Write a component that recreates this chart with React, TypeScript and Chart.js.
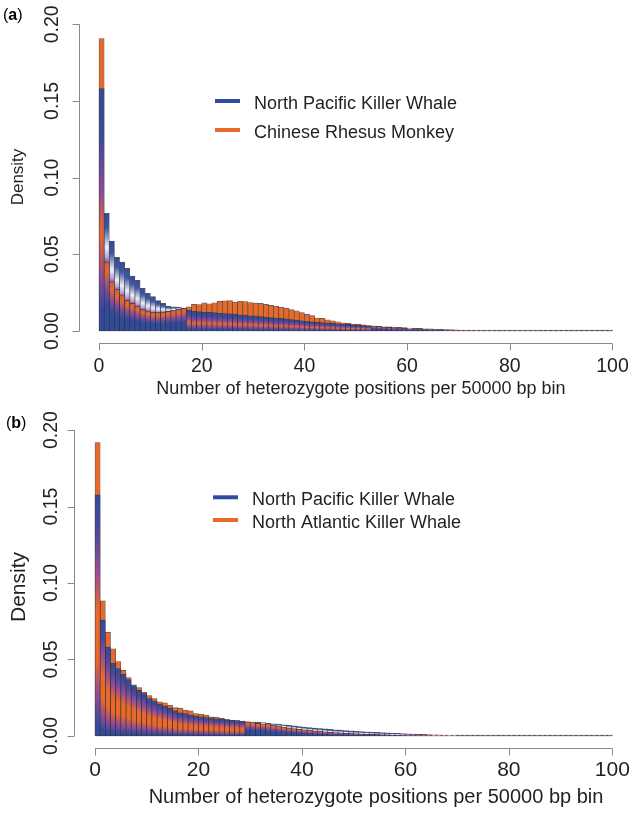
import React, { useEffect, useRef } from "react";
import { Chart, registerables } from "chart.js";

Chart.register(...registerables);

// ---------------- data ----------------
const BIN_STARTS = Array.from({ length: 100 }, (_, i) => i); // histogram bins of width 1, 0..100
const X_TICKS = [0, 20, 40, 60, 80, 100];
const Y_TICKS = [0, 0.05, 0.1, 0.15, 0.2];
const X_TITLE = "Number of heterozygote positions per 50000 bp bin";
const Y_TITLE = "Density";
const NAMES_A = ["North Pacific Killer Whale", "Chinese Rhesus Monkey"];
const NAMES_B = ["North Pacific Killer Whale", "North Atlantic Killer Whale"];

// (a) North Pacific Killer Whale
const npkwA = [
  0.158, 0.0767, 0.0586, 0.048, 0.045, 0.0408, 0.0358, 0.033, 0.0278, 0.0245,
  0.0224, 0.0198, 0.018, 0.0163, 0.0158, 0.0156, 0.0148, 0.0137, 0.0128, 0.0126,
  0.0124, 0.0122, 0.012, 0.0116, 0.0114, 0.0112, 0.011, 0.0106, 0.0103, 0.0099,
  0.0097, 0.0094, 0.0091, 0.0088, 0.0085, 0.0082, 0.0079, 0.0075, 0.0071, 0.0067,
  0.0063, 0.006, 0.0057, 0.0055, 0.0052, 0.005, 0.0047, 0.0045, 0.0043, 0.004,
  0.0038, 0.0036, 0.0034, 0.0032, 0.003, 0.0028, 0.0027, 0.0025, 0.0024, 0.0022,
  0.002, 0.0018, 0.0017, 0.0015, 0.0014, 0.0012, 0.0011, 0.001, 0.0009, 0.0008,
  0.0007, 0.0006, 0.0006, 0.0005, 0.0005, 0.0004, 0.0004, 0.0003, 0.0003, 0.0003,
  0.0002, 0.0002, 0.0002, 0.0002, 0.0001, 0.0001, 0.0001, 0.0001, 0.0001, 0.0001,
  0.0001, 0.0001, 0.00005, 0.00005, 0.00005, 0.00005, 0.00005, 0.00005, 0.00005, 0.00005,
];
// (a) Chinese Rhesus Monkey
const crmA = [
  0.1907, 0.045, 0.032, 0.027, 0.023, 0.02, 0.018, 0.016, 0.014, 0.013,
  0.012, 0.012, 0.0123, 0.0128, 0.0133, 0.014, 0.0148, 0.0158, 0.0174, 0.0172,
  0.0184, 0.0178, 0.0184, 0.0193, 0.0197, 0.0198, 0.0188, 0.0195, 0.0192, 0.0186,
  0.0182, 0.018, 0.0174, 0.0168, 0.0162, 0.0155, 0.0148, 0.014, 0.0132, 0.012,
  0.0109, 0.01, 0.0085, 0.0083, 0.0073, 0.0066, 0.006, 0.0054, 0.005, 0.0046,
  0.0043, 0.004, 0.0035, 0.0032, 0.0029, 0.0026, 0.0024, 0.0021, 0.0019, 0.0017,
  0.0015, 0.0013, 0.0012, 0.001, 0.0009, 0.0008, 0.0007, 0.0006, 0.0005, 0.0004,
  0.0004, 0.0003, 0.0003, 0.0002, 0.0002, 0.0002, 0.0001, 0.0001, 0.0001, 0.0001,
  0.0001, 0.0001, 0.0001, 0.0001, 0.0001, 0.0001, 0.00005, 0.00005, 0.00005, 0.00005,
  0.00005, 0.00005, 0.00005, 0.00005, 0.00005, 0.00005, 0.00005, 0.00005, 0.00005, 0.00005,
];
// (b) North Pacific Killer Whale
const npkwB = [
  0.1576, 0.0758, 0.058, 0.0476, 0.044, 0.0403, 0.0368, 0.0329, 0.0299, 0.0277,
  0.0245, 0.023, 0.0208, 0.0195, 0.018, 0.0164, 0.0151, 0.0147, 0.0136, 0.013,
  0.0125, 0.012, 0.0118, 0.0112, 0.011, 0.0104, 0.0103, 0.01, 0.0096, 0.0093,
  0.0091, 0.009, 0.0087, 0.0083, 0.008, 0.0077, 0.0073, 0.007, 0.0066, 0.0062,
  0.0058, 0.0055, 0.0052, 0.0049, 0.0046, 0.0043, 0.004, 0.0038, 0.0035, 0.0033,
  0.0031, 0.0029, 0.0027, 0.0025, 0.0023, 0.0022, 0.002, 0.0018, 0.0017, 0.0015,
  0.0014, 0.0013, 0.0011, 0.001, 0.0009, 0.0008, 0.0007, 0.0006, 0.0006, 0.0005,
  0.0004, 0.0004, 0.0003, 0.0003, 0.0003, 0.0002, 0.0002, 0.0002, 0.0002, 0.0001,
  0.0001, 0.0001, 0.0001, 0.0001, 0.0001, 0.0001, 0.0001, 0.00005, 0.00005, 0.00005,
  0.00005, 0.00005, 0.00005, 0.00005, 0.00005, 0.00005, 0.00005, 0.00005, 0.00005, 0.00005,
];
// (b) North Atlantic Killer Whale
const nakwB = [
  0.1918, 0.0883, 0.0677, 0.057, 0.0487, 0.0429, 0.0381, 0.0335, 0.0316, 0.0286,
  0.0264, 0.0245, 0.0223, 0.0216, 0.0201, 0.0186, 0.0182, 0.0169, 0.0164, 0.0147,
  0.0143, 0.0136, 0.0125, 0.0123, 0.0115, 0.011, 0.0104, 0.0101, 0.0097, 0.0092,
  0.0087, 0.0083, 0.0079, 0.0074, 0.0068, 0.0062, 0.0057, 0.0052, 0.0047, 0.0043,
  0.0039, 0.0035, 0.0032, 0.0029, 0.0026, 0.0023, 0.0021, 0.0019, 0.0017, 0.0015,
  0.0014, 0.0012, 0.0011, 0.001, 0.0009, 0.0008, 0.0007, 0.0006, 0.0006, 0.0005,
  0.0004, 0.0004, 0.0003, 0.0003, 0.0003, 0.0002, 0.0002, 0.0002, 0.0001, 0.0001,
  0.0001, 0.0001, 0.0001, 0.0001, 0.0001, 0.0001, 0.0001, 0.0001, 0.0001, 0.0001,
  0.00005, 0.00005, 0.00005, 0.00005, 0.00005, 0.00005, 0.00005, 0.00005, 0.00005, 0.00005,
  0.00005, 0.00005, 0.00005, 0.00005, 0.00005, 0.00005, 0.00005, 0.00005, 0.00005, 0.00005,
];

// ---------------- styles ----------------
const FONT = '"Liberation Sans", Arial, Helvetica, sans-serif';
const BLUE = "#2E4B9C";
const ORANGE = "#E8692A";
const AXIS = "#8a8a8a";
const TEXT = "#231f20";
const BORDER = "rgba(45,45,45,0.8)";

type Stops = [number, string][];

const FRONT_BLUE_STOPS_A: Stops = [
  [0, BLUE], [0.2, "#3A4AA0"], [0.42, "#8A4A9E"], [0.6, ORANGE], [0.78, "#8A4A9E"], [0.92, BLUE], [1, BLUE],
];
const FRONT_BLUE_STOPS_B: Stops = [
  [0, BLUE], [0.14, "#46499F"], [0.32, "#9A4E96"], [0.48, ORANGE], [0.68, ORANGE], [0.84, "#8A4A9E"], [0.96, BLUE], [1, BLUE],
];
const FRONT_ORANGE_STOPS: Stops = [
  [0, "#D0603A"], [0.15, ORANGE], [0.38, "#8A4A9E"], [0.62, BLUE], [1, BLUE],
];
const BACK_BLUE_STOPS: Stops = [
  [0, BLUE], [0.3, "#3E58A8"], [0.7, "#EEEEF6"], [0.9, "#B9A6D6"], [1, "#8A5AA8"],
];

type PanelCfg = {
  tag: string;
  names: string[];
  blue: number[];
  orange: number[];
  frontBlueStops: Stops;
  height: number;
  padTop: number;
  yWidth: number;
  xHeight: number;
  yTickFont: number;
  yTickX: number;
  xTickFont: number;
  xTickY: number;
  xTitleFont: number;
  xTitleX: number;
  xTitleY: number;
  yTitleFont: number;
  yTitleX: number;
  yTitleY: number;
  legLineX: [number, number];
  legRows: [number, number];
  legTextX: number;
  legFont: number;
  tagX: number;
  tagY: number;
  tagFont: number;
};

const PANEL_A: PanelCfg = {
  tag: "a", names: NAMES_A, blue: npkwA, orange: crmA, frontBlueStops: FRONT_BLUE_STOPS_A,
  height: 406, padTop: 12, yWidth: 78.5, xHeight: 62.7,
  yTickFont: 19.5, yTickX: 58, xTickFont: 19.5, xTickY: 371.5,
  xTitleFont: 18, xTitleX: 361, xTitleY: 393.5, yTitleFont: 17, yTitleX: 23, yTitleY: 177,
  legLineX: [215, 240], legRows: [101, 130], legTextX: 254, legFont: 18,
  tagX: 3, tagY: 20, tagFont: 16,
};
const PANEL_B: PanelCfg = {
  tag: "b", names: NAMES_B, blue: npkwB, orange: nakwB, frontBlueStops: FRONT_BLUE_STOPS_B,
  height: 407, padTop: 11.8, yWidth: 74.3, xHeight: 64.8,
  yTickFont: 19.5, yTickX: 57, xTickFont: 21, xTickY: 370,
  xTitleFont: 20, xTitleX: 376, xTitleY: 396.5, yTitleFont: 21, yTitleX: 25, yTitleY: 181,
  legLineX: [213, 238], legRows: [91.3, 114], legTextX: 252, legFont: 18,
  tagX: 6, tagY: 22, tagFont: 16,
};

function vGrad(ctx: CanvasRenderingContext2D, yTop: number, yBot: number, stops: Stops, fallback: string) {
  if (!(Math.abs(yBot - yTop) > 0.5) || !isFinite(yTop) || !isFinite(yBot)) return fallback;
  const g = ctx.createLinearGradient(0, yTop, 0, yBot);
  stops.forEach(([o, c]) => g.addColorStop(o, c));
  return g;
}

function makeDecor(cfg: PanelCfg) {
  return {
    id: "panelDecor" + cfg.tag,
    afterDraw(chart: any) {
      const { ctx, chartArea } = chart;
      const xs = chart.scales.x;
      const ys = chart.scales.y;
      ctx.save();
      // axes (R style, detached)
      ctx.strokeStyle = AXIS;
      ctx.lineWidth = 1;
      const axY = Math.round(chartArea.bottom) + 0.5;
      const axX = Math.round(chartArea.left) + 0.5;
      ctx.beginPath();
      ctx.moveTo(xs.getPixelForValue(X_TICKS[0]), axY);
      ctx.lineTo(xs.getPixelForValue(X_TICKS[X_TICKS.length - 1]), axY);
      X_TICKS.forEach((v) => {
        const px = Math.round(xs.getPixelForValue(v)) + 0.5;
        ctx.moveTo(px, axY);
        ctx.lineTo(px, axY + 7);
      });
      ctx.moveTo(axX, ys.getPixelForValue(Y_TICKS[0]));
      ctx.lineTo(axX, ys.getPixelForValue(Y_TICKS[Y_TICKS.length - 1]));
      Y_TICKS.forEach((v) => {
        const py = Math.round(ys.getPixelForValue(v)) + 0.5;
        ctx.moveTo(axX, py);
        ctx.lineTo(axX - 7, py);
      });
      ctx.stroke();

      ctx.fillStyle = TEXT;
      // x tick labels
      ctx.font = `${cfg.xTickFont}px ${FONT}`;
      ctx.textAlign = "center";
      ctx.textBaseline = "alphabetic";
      X_TICKS.forEach((v) => ctx.fillText(String(v), xs.getPixelForValue(v), cfg.xTickY));
      // y tick labels (rotated)
      ctx.font = `${cfg.yTickFont}px ${FONT}`;
      Y_TICKS.forEach((v) => {
        ctx.save();
        ctx.translate(cfg.yTickX, ys.getPixelForValue(v));
        ctx.rotate(-Math.PI / 2);
        ctx.fillText(v.toFixed(2), 0, 0);
        ctx.restore();
      });
      // axis titles
      ctx.font = `${cfg.xTitleFont}px ${FONT}`;
      ctx.fillText(X_TITLE, cfg.xTitleX, cfg.xTitleY);
      ctx.save();
      ctx.font = `${cfg.yTitleFont}px ${FONT}`;
      ctx.translate(cfg.yTitleX, cfg.yTitleY);
      ctx.rotate(-Math.PI / 2);
      ctx.fillText(Y_TITLE, 0, 0);
      ctx.restore();

      // legend
      const colors = [BLUE, ORANGE];
      ctx.textAlign = "left";
      ctx.font = `${cfg.legFont}px ${FONT}`;
      cfg.names.forEach((name, k) => {
        const ly = cfg.legRows[k];
        ctx.strokeStyle = colors[k];
        ctx.lineWidth = 4;
        ctx.beginPath();
        ctx.moveTo(cfg.legLineX[0], ly);
        ctx.lineTo(cfg.legLineX[1], ly);
        ctx.stroke();
        ctx.fillStyle = TEXT;
        ctx.fillText(name, cfg.legTextX, ly + 7.5);
      });

      // panel tag "(a)" with bold letter
      ctx.fillStyle = "#000";
      let x = cfg.tagX;
      ctx.font = `${cfg.tagFont}px ${FONT}`;
      ctx.fillText("(", x, cfg.tagY);
      x += ctx.measureText("(").width;
      ctx.font = `bold ${cfg.tagFont}px ${FONT}`;
      ctx.fillText(cfg.tag, x, cfg.tagY);
      x += ctx.measureText(cfg.tag).width;
      ctx.font = `${cfg.tagFont}px ${FONT}`;
      ctx.fillText(")", x, cfg.tagY);
      ctx.restore();
    },
  };
}

function buildConfig(cfg: PanelCfg): any {
  const back = cfg.blue.map((b, i) => Math.max(b, cfg.orange[i]));
  const front = cfg.blue.map((b, i) => Math.min(b, cfg.orange[i]));
  const blueTaller = cfg.blue.map((b, i) => b >= cfg.orange[i]);

  const backColor = (c: any) => {
    if (c.type !== "data") return BLUE;
    const i = c.dataIndex;
    if (!blueTaller[i]) return ORANGE;
    const ch = c.chart;
    const ys = ch.scales && ch.scales.y;
    if (!ys || !ch.chartArea) return BLUE;
    return vGrad(ch.ctx, ys.getPixelForValue(back[i]), ys.getPixelForValue(front[i]), BACK_BLUE_STOPS, BLUE);
  };
  const frontColor = (c: any) => {
    if (c.type !== "data") return BLUE;
    const i = c.dataIndex;
    const ch = c.chart;
    const ys = ch.scales && ch.scales.y;
    const frontIsBlue = !blueTaller[i];
    const solid = frontIsBlue ? BLUE : ORANGE;
    if (!ys || !ch.chartArea) return solid;
    return vGrad(
      ch.ctx,
      ys.getPixelForValue(front[i]),
      ys.getPixelForValue(0),
      frontIsBlue ? cfg.frontBlueStops : FRONT_ORANGE_STOPS,
      solid
    );
  };

  return {
    type: "bar",
    data: {
      datasets: [
        {
          label: "front",
          data: front.map((v, i) => ({ x: BIN_STARTS[i] + 0.5, y: v })),
          backgroundColor: frontColor,
          borderColor: BORDER,
          borderWidth: 0.7,
          borderSkipped: false,
          grouped: false,
          barPercentage: 1,
          categoryPercentage: 1,
          order: 0,
        },
        {
          label: "back",
          data: back.map((v, i) => ({ x: BIN_STARTS[i] + 0.5, y: v })),
          backgroundColor: backColor,
          borderColor: BORDER,
          borderWidth: 0.7,
          borderSkipped: false,
          grouped: false,
          barPercentage: 1,
          categoryPercentage: 1,
          minBarLength: 1,
          order: 1,
        },
      ],
    },
    options: {
      animation: false,
      responsive: false,
      devicePixelRatio: 1,
      events: [],
      layout: { padding: { top: cfg.padTop, left: 0, right: 0, bottom: 0 } },
      plugins: { legend: { display: false }, tooltip: { enabled: false } },
      scales: {
        x: {
          type: "linear",
          min: -4,
          max: 104,
          offset: false,
          grid: { display: false, offset: false },
          border: { display: false },
          ticks: { display: false },
          afterFit: (s: any) => {
            s.height = cfg.xHeight;
          },
        },
        y: {
          type: "linear",
          min: -0.008,
          max: 0.208,
          grid: { display: false },
          border: { display: false },
          ticks: { display: false },
          afterFit: (s: any) => {
            s.width = cfg.yWidth;
          },
        },
      },
    },
    plugins: [makeDecor(cfg)],
  };
}

function Panel({ cfg }: { cfg: PanelCfg }) {
  const ref = useRef<HTMLCanvasElement>(null);
  useEffect(() => {
    if (!ref.current) return;
    const chart = new Chart(ref.current, buildConfig(cfg));
    return () => chart.destroy();
  }, [cfg]);
  return (
    <canvas
      ref={ref}
      width={633}
      height={cfg.height}
      style={{ display: "block", width: 633, height: cfg.height }}
    />
  );
}

export default function App() {
  return (
    <div style={{ position: "fixed", left: 0, top: 0, width: 633, height: 813, background: "#fff" }}>
      <Panel cfg={PANEL_A} />
      <Panel cfg={PANEL_B} />
    </div>
  );
}
